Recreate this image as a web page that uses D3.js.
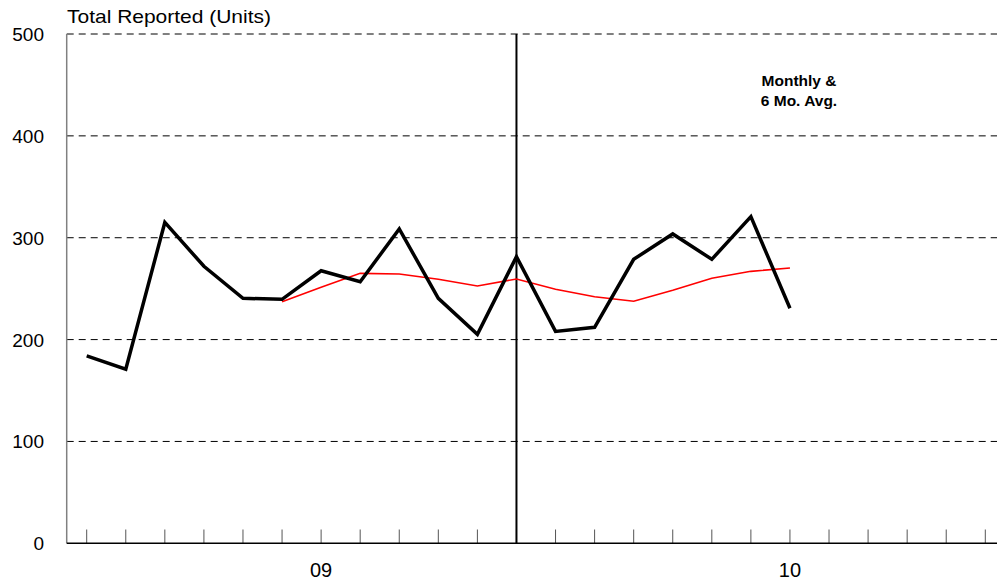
<!DOCTYPE html>
<html><head><meta charset="utf-8">
<script src="https://cdn.jsdelivr.net/npm/d3@7"></script>
<style>body{margin:0;background:#fff}svg{display:block;font-family:"Liberation Sans",Arial,sans-serif}</style>
</head><body><svg id="c" width="997" height="583"></svg>
<script>
const slots = d3.range(24);
const xLabels = ["","","","","","","09","","","","","","","","","","","","10","","","","",""];
const monthly = [184,171,315,272,240.5,239.5,267.6,256.8,308.6,240.5,205.2,281.4,208,212,278.8,303.7,278.8,320.7,230.7];
const avgStart = 5;
const avg6 = [237.2,251.3,265,264.4,259.2,252.6,259.5,249.4,242.1,237.6,248.4,260.2,267,270.3];
const yTicks = [0,100,200,300,400,500];
const yearDivider = 11;
const title = "Total Reported (Units)";
const note = ["Monthly &","6 Mo. Avg."];

const svg = d3.select("#c");
const x = d3.scalePoint().domain(slots).range([86.7,985.3]);
const y = d3.scaleLinear().domain([0,500]).range([543.3,34]);
const left = 66.7, right = 997;

// gridlines
svg.append("g").selectAll("line").data(yTicks.filter(d=>d>0)).join("line")
  .attr("x1",left).attr("x2",right).attr("y1",d=>y(d)).attr("y2",d=>y(d))
  .attr("stroke","#000").attr("stroke-width",1).attr("stroke-dasharray","7,5");

// y labels
svg.append("g").selectAll("text").data(yTicks).join("text")
  .attr("x",44).attr("y",d=>y(d)+7).attr("text-anchor","end")
  .attr("font-size",19).attr("fill","#000").text(d=>d);

// y axis line
svg.append("line").attr("x1",left).attr("x2",left).attr("y1",y(500)).attr("y2",y(0))
  .attr("stroke","#808080").attr("stroke-width",1.5);

// x ticks
svg.append("g").selectAll("line").data(slots).join("line")
  .attr("x1",d=>x(d)).attr("x2",d=>x(d)).attr("y1",529.5).attr("y2",y(0))
  .attr("stroke","#555").attr("stroke-width",1);

// x labels
svg.append("g").selectAll("text").data(slots.filter(d=>xLabels[d])).join("text")
  .attr("x",d=>x(d)).attr("y",577).attr("text-anchor","middle")
  .attr("font-size",20).attr("fill","#000").text(d=>xLabels[d]);

// bottom axis
svg.append("line").attr("x1",left).attr("x2",right).attr("y1",y(0)).attr("y2",y(0))
  .attr("stroke","#000").attr("stroke-width",1.5);

// year divider
svg.append("line").attr("x1",x(yearDivider)).attr("x2",x(yearDivider)).attr("y1",y(500)).attr("y2",y(0))
  .attr("stroke","#000").attr("stroke-width",2);

// avg line
svg.append("path").datum(avg6)
  .attr("d",d3.line().x((d,i)=>x(i+avgStart)).y(d=>y(d)))
  .attr("fill","none").attr("stroke","#ff0000").attr("stroke-width",1.6);

// monthly line
svg.append("path").datum(monthly)
  .attr("d",d3.line().x((d,i)=>x(i)).y(d=>y(d)))
  .attr("fill","none").attr("stroke","#000").attr("stroke-width",3.5).attr("stroke-linejoin","miter");

// title
svg.append("text").attr("x",67).attr("y",23).attr("font-size",18.5)
  .attr("textLength",204).attr("lengthAdjust","spacingAndGlyphs").attr("fill","#000").text(title);

// note
svg.append("g").selectAll("text").data(note).join("text")
  .attr("x",799).attr("y",(d,i)=>85.5+i*20).attr("text-anchor","middle")
  .attr("font-size",15.5).attr("font-weight","bold").attr("fill","#000").text(d=>d);
</script></body></html>
